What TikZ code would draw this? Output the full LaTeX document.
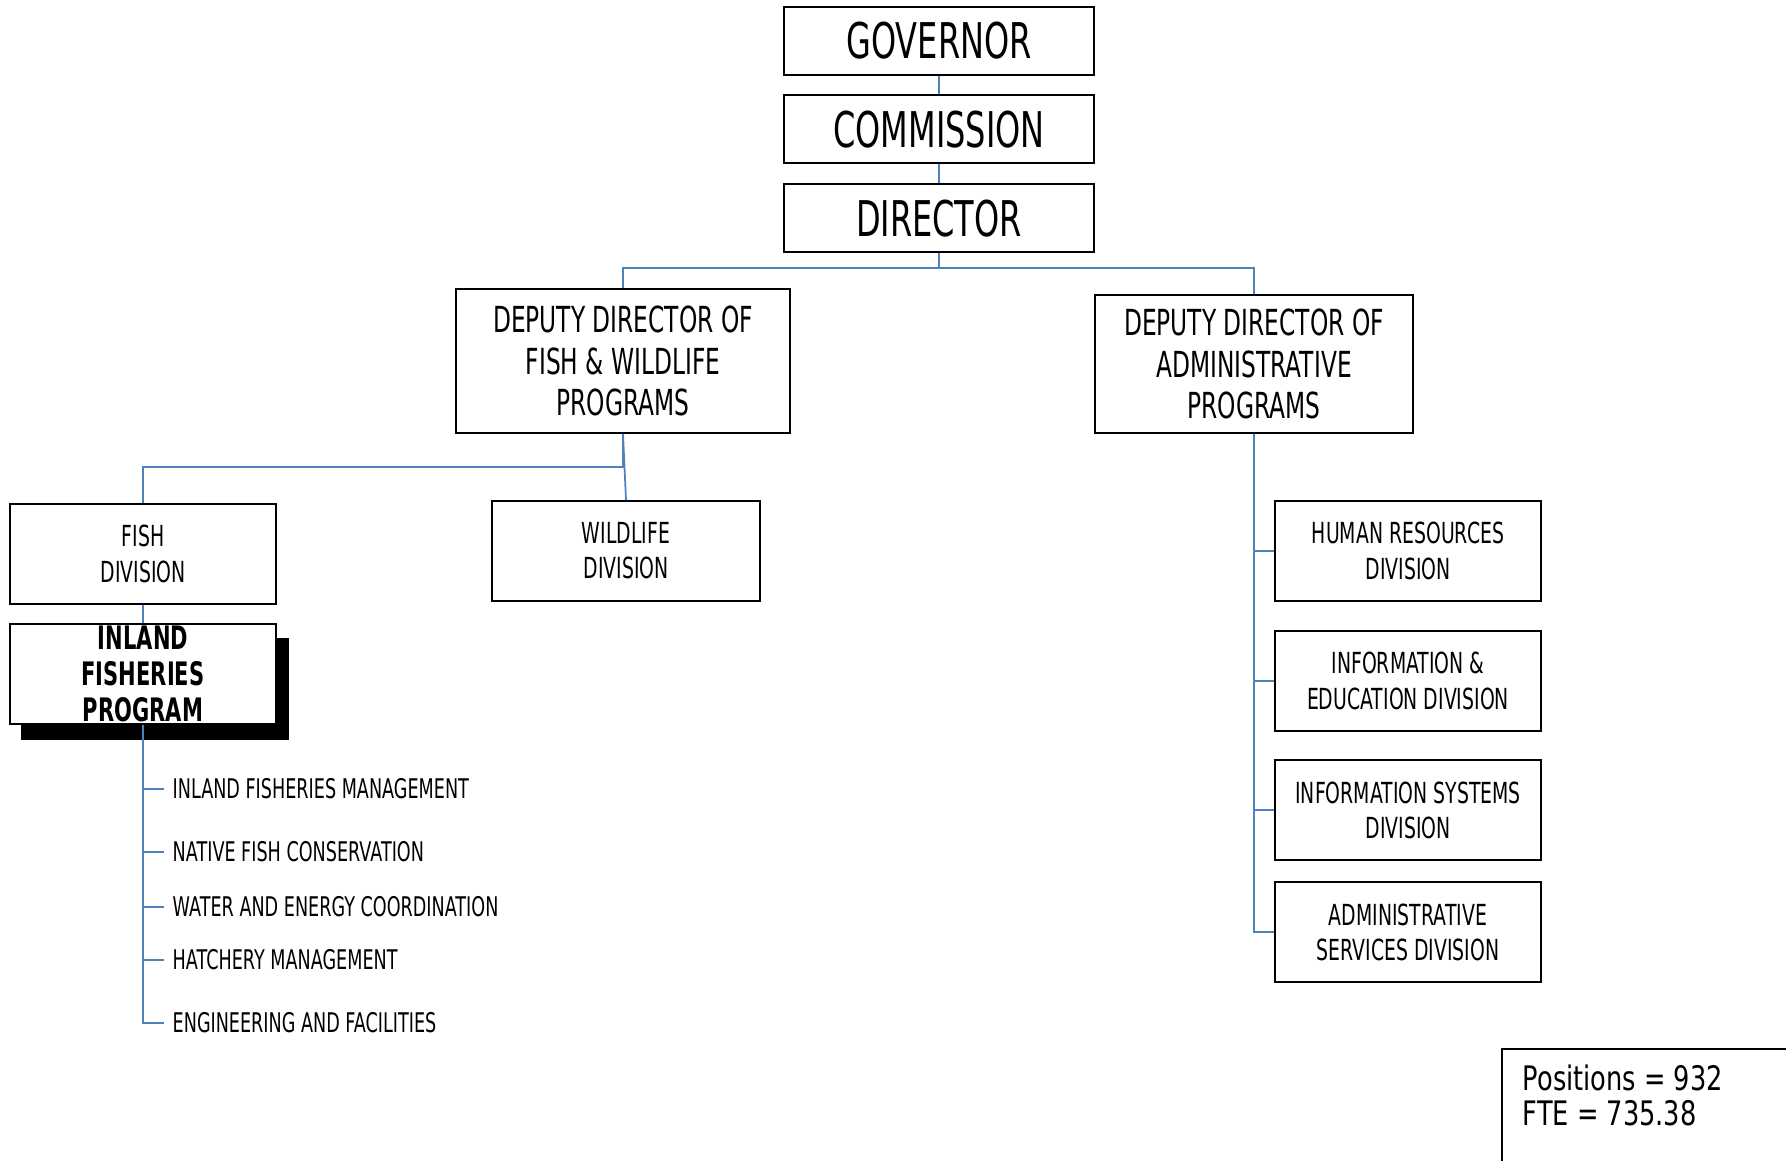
\documentclass[tikz,border=0pt]{standalone}
\usepackage{fontspec}
\setmainfont{DejaVu Sans}[FakeStretch=0.65]
\newfontfamily\statfont{DejaVu Sans}[FakeStretch=0.76]
\usepackage{xcolor}
\usetikzlibrary{positioning, backgrounds}
\definecolor{linkblue}{HTML}{4F81BD}

\begin{document}
\begin{tikzpicture}[x=0.01cm, y=-0.01cm,
  box/.style={draw, line width=0.6pt, fill=white, align=center, inner sep=0pt},
  topbox/.style={box, minimum width=3.1cm, minimum height=0.68cm, font=\fontsize{14}{16}\selectfont},
  deputy/.style={box, font=\fontsize{10.2}{11.7}\selectfont},
  divbox/.style={box, minimum width=2.66cm, minimum height=1cm, font=\fontsize{8.25}{10}\selectfont},
  item/.style={anchor=west, inner xsep=0.08cm, inner ysep=0pt, font=\fontsize{7.7}{9}\selectfont},
  link/.style={draw=linkblue, line width=0.5pt}]
\useasboundingbox (0,0) rectangle (1786,1160);

% Top of the chain
\node[topbox] (gov) at (939,41) {GOVERNOR};
\node[topbox, below=0.18cm of gov] (comm) {COMMISSION};
\node[topbox, below=0.19cm of comm] (dir) {DIRECTOR};
\draw[link] (gov) -- (comm);
\draw[link] (comm) -- (dir);

% Deputy directors
\node[deputy, minimum width=3.33cm, minimum height=1.44cm] (ddfw) at (623,361) {DEPUTY DIRECTOR OF\\FISH \& WILDLIFE\\PROGRAMS};
\node[deputy, minimum width=3.17cm, minimum height=1.38cm] (ddadm) at (1254,364) {DEPUTY DIRECTOR OF\\ADMINISTRATIVE\\PROGRAMS};
\coordinate (topbus) at (940,268);
\draw[link] (dir.south) -- (dir.south |- topbus) -| (ddfw.north);
\draw[link] (dir.south |- topbus) -| (ddadm.north);

% Fish & wildlife side
\node[divbox] (fish) at (143,554) {FISH\\DIVISION};
\node[divbox, minimum width=2.68cm] (wild) at (626,551) {WILDLIFE\\DIVISION};
\coordinate (fwbus) at (625,467);
\draw[link] (ddfw.south) -- (ddfw.south |- fwbus) -| (fish.north);
\draw[link] (ddfw.south) -- (wild.north);

\node[divbox, font=\bfseries\fontsize{9.2}{10.3}\selectfont] (inland) at (143,674) {INLAND\\FISHERIES\\PROGRAM};
\begin{scope}[on background layer]
\fill ([xshift=0.12cm,yshift=-0.15cm]inland.south west) rectangle ([xshift=0.12cm,yshift=-0.15cm]inland.north east);
\end{scope}
\draw[link] (fish) -- (inland);

\node[item] (ifm) at (164,789) {INLAND FISHERIES MANAGEMENT};
\node[item] (nfc) at (164,852) {NATIVE FISH CONSERVATION};
\node[item] (wec) at (164,907) {WATER AND ENERGY COORDINATION};
\node[item] (hm) at (164,960) {HATCHERY MANAGEMENT};
\node[item] (eaf) at (164,1023) {ENGINEERING AND FACILITIES};
\draw[link] (inland.south) |- (ifm.west);
\draw[link] (inland.south) |- (nfc.west);
\draw[link] (inland.south) |- (wec.west);
\draw[link] (inland.south) |- (hm.west);
\draw[link] (inland.south) |- (eaf.west);

% Administrative side
\node[divbox] (hr) at (1408,551) {HUMAN RESOURCES\\DIVISION};
\node[divbox] (infoed) at (1408,681) {INFORMATION \&\\EDUCATION DIVISION};
\node[divbox] (infosys) at (1408,810) {INFORMATION SYSTEMS\\DIVISION};
\node[divbox] (admserv) at (1408,932) {ADMINISTRATIVE\\SERVICES DIVISION};
\draw[link] (ddadm.south) |- (hr.west);
\draw[link] (ddadm.south) |- (infoed.west);
\draw[link] (ddadm.south) |- (infosys.west);
\draw[link] (ddadm.south) |- (admserv.west);

% Staffing totals
\node[draw, line width=0.6pt, anchor=north west, minimum width=3.2cm, minimum height=1.3cm] (statbox) at (1501,1048) {};
\node[anchor=north west, align=left, inner sep=0pt, font=\statfont\fontsize{9.6}{10}\selectfont] (stats) at (1522,1064) {Positions = 932\\FTE = 735.38};
\end{tikzpicture}
\end{document}
